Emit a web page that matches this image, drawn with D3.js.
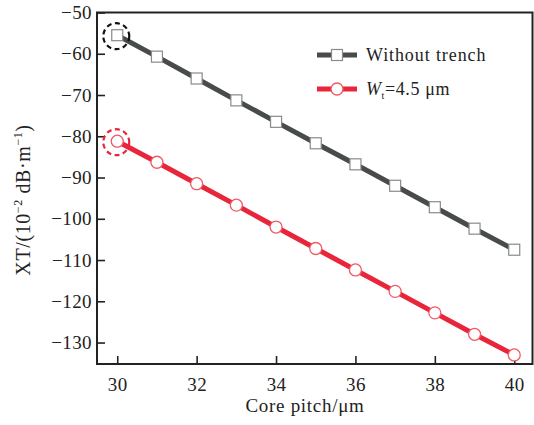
<!DOCTYPE html>
<html>
<head>
<meta charset="utf-8">
<script src="https://cdn.jsdelivr.net/npm/d3@7"></script>
<style>
  body { margin: 0; background: #fff; }
  svg text { font-family: "Liberation Serif", "Times New Roman", serif; fill: #222; }
</style>
</head>
<body>
<div id="chart"></div>
<script>
// data
var pitch = [30, 31, 32, 33, 34, 35, 36, 37, 38, 39, 40];
var noTrench = [-55.5, -60.7, -66.0, -71.3, -76.5, -81.7, -86.8, -92.0, -97.2, -102.4, -107.5];
var trench45 = [-81.2, -86.3, -91.5, -96.7, -102.0, -107.2, -112.4, -117.6, -122.8, -128.0, -133.0];
var xTicks = [30, 32, 34, 36, 38, 40];
var yTicks = [-50, -60, -70, -80, -90, -100, -110, -120, -130];

var W = 534, H = 425;
var margin = { top: 12.5, right: 1.5, bottom: 61, left: 97 },
    width  = W - margin.left - margin.right,
    height = H - margin.top - margin.bottom;

var serif = '"Liberation Serif", "Times New Roman", serif';

var svg = d3.select("#chart")
            .append("svg")
            .attr("width", W)
            .attr("height", H);
var g = svg.append("g")
           .attr("transform", `translate(${margin.left},${margin.top})`);

var x = d3.scaleLinear().domain([29.49, 40.46]).range([0, width]);
var y = d3.scaleLinear().domain([-135.2, -50]).range([height, 0]);

var fmt = d => d < 0 ? "\u2212" + Math.abs(d) : String(d);

// axes (ticks pointing inward)
var xAxis = g.append("g")
   .attr("transform", `translate(0,${height})`)
   .call(d3.axisBottom(x).tickValues(xTicks).tickSizeInner(-8).tickSizeOuter(0).tickPadding(14));
var yAxis = g.append("g")
   .call(d3.axisLeft(y).tickValues(yTicks).tickFormat(fmt).tickSizeInner(-8).tickSizeOuter(0).tickPadding(5));
[xAxis, yAxis].forEach(a => {
  a.attr("font-family", serif);
  a.select(".domain").remove();
  a.selectAll(".tick line").attr("stroke", "#222").attr("stroke-width", 1.6);
  a.selectAll(".tick text").style("font-size", "19px").style("font-family", serif)
   .style("letter-spacing", "0.4px").attr("fill", "#222");
});

// frame
g.append("rect")
 .attr("width", width).attr("height", height)
 .attr("fill", "none").attr("stroke", "#222").attr("stroke-width", 2);

var series = [
  { name: "noTrench", values: noTrench, color: "#474b4b", marker: "square", mstroke: "#8a8a8a", ring: "#111" },
  { name: "trench45", values: trench45, color: "#e8253a", marker: "circle", mstroke: "#f05a66", ring: "#e8253a" }
];

var line = d3.line().x(d => x(d[0])).y(d => y(d[1]));

series.forEach(s => {
  var pts = pitch.map((p, i) => [p, s.values[i]]);
  g.append("path")
   .datum(pts)
   .attr("d", line)
   .attr("fill", "none")
   .attr("stroke", s.color)
   .attr("stroke-width", 5);

  if (s.marker === "square") {
    g.selectAll(".m-" + s.name)
     .data(pts).enter().append("rect")
     .attr("x", d => x(d[0]) - 5.5).attr("y", d => y(d[1]) - 5.5)
     .attr("width", 11).attr("height", 11)
     .attr("fill", "#fff").attr("stroke", s.mstroke).attr("stroke-width", 1.2);
  } else {
    g.selectAll(".m-" + s.name)
     .data(pts).enter().append("circle")
     .attr("cx", d => x(d[0])).attr("cy", d => y(d[1]))
     .attr("r", 6)
     .attr("fill", "#fff").attr("stroke", s.mstroke).attr("stroke-width", 1.3);
  }

  // dashed ring around the first point
  g.append("circle")
   .attr("cx", x(pitch[0]) - 1).attr("cy", y(s.values[0]) + 1)
   .attr("r", 13)
   .attr("fill", "none")
   .attr("stroke", s.ring)
   .attr("stroke-width", 2.2)
   .attr("stroke-dasharray", "5,3.5");
});

// legend
var legend = svg.append("g");
var legY = [55, 89];
series.forEach((s, i) => {
  legend.append("line")
    .attr("x1", 317).attr("x2", 357).attr("y1", legY[i]).attr("y2", legY[i])
    .attr("stroke", s.color).attr("stroke-width", 5);
  if (s.marker === "square") {
    legend.append("rect")
      .attr("x", 337 - 5.5).attr("y", legY[i] - 5.5).attr("width", 11).attr("height", 11)
      .attr("fill", "#fff").attr("stroke", s.mstroke).attr("stroke-width", 1.2);
  } else {
    legend.append("circle")
      .attr("cx", 337).attr("cy", legY[i]).attr("r", 6)
      .attr("fill", "#fff").attr("stroke", s.mstroke).attr("stroke-width", 1.3);
  }
});
legend.append("text")
  .attr("x", 366).attr("y", legY[0]).attr("dy", "0.33em")
  .style("font-size", "18px").style("letter-spacing", "0.9px")
  .text("Without trench");
var wt = legend.append("text")
  .attr("x", 366).attr("y", legY[1]).attr("dy", "0.33em")
  .style("font-size", "18px").style("letter-spacing", "0.6px");
wt.append("tspan").style("font-style", "italic").text("W");
wt.append("tspan").attr("dy", "4").style("font-size", "10px").text("t");
wt.append("tspan").attr("dy", "-4").text("=4.5 \u03bcm");

// axis titles
svg.append("text")
  .attr("x", 305).attr("y", 412)
  .attr("text-anchor", "middle")
  .style("font-size", "19px").style("letter-spacing", "0.7px")
  .text("Core pitch/\u03bcm");

var yl = svg.append("text")
  .attr("transform", "translate(30,200) rotate(-90)")
  .attr("text-anchor", "middle")
  .style("font-size", "20px").style("letter-spacing", "0.6px");
yl.append("tspan").text("XT/(10");
yl.append("tspan").attr("dy", "-8").style("font-size", "12px").text("\u22122");
yl.append("tspan").attr("dy", "8").text(" dB\u00b7m");
yl.append("tspan").attr("dy", "-8").style("font-size", "12px").text("\u22121");
yl.append("tspan").attr("dy", "8").text(")");
</script>
</body>
</html>
